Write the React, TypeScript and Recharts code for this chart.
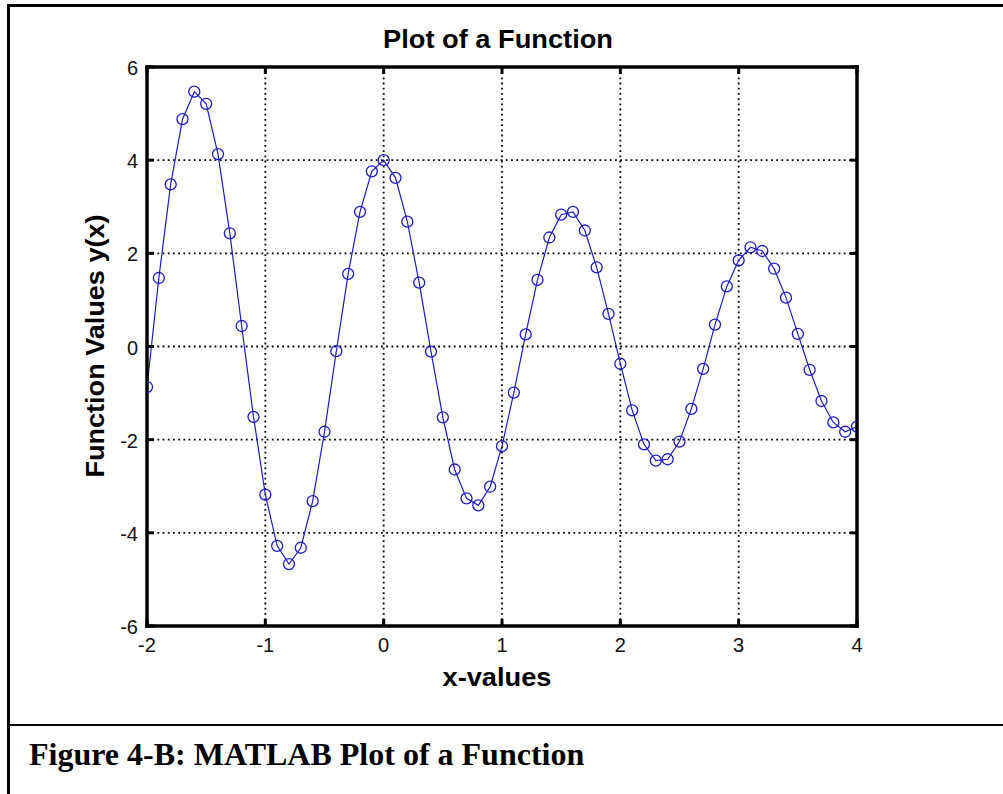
import React from 'react';
import { LineChart, Line, XAxis, YAxis, CartesianGrid } from 'recharts';

const xValues = [
  -2.0, -1.9, -1.8, -1.7, -1.6, -1.5, -1.4, -1.3, -1.2, -1.1,
  -1.0, -0.9, -0.8, -0.7, -0.6, -0.5, -0.4, -0.3, -0.2, -0.1,
  0.0, 0.1, 0.2, 0.3, 0.4, 0.5, 0.6, 0.7, 0.8, 0.9,
  1.0, 1.1, 1.2, 1.3, 1.4, 1.5, 1.6, 1.7, 1.8, 1.9,
  2.0, 2.1, 2.2, 2.3, 2.4, 2.5, 2.6, 2.7, 2.8, 2.9,
  3.0, 3.1, 3.2, 3.3, 3.4, 3.5, 3.6, 3.7, 3.8, 3.9, 4.0,
];

const yValues = [
  -0.87, 1.47, 3.48, 4.88, 5.47, 5.21, 4.13, 2.43, 0.44, -1.51,
  -3.18, -4.28, -4.67, -4.32, -3.32, -1.83, -0.1, 1.56, 2.89, 3.76,
  4.0, 3.62, 2.68, 1.37, -0.11, -1.52, -2.64, -3.26, -3.41, -3.01,
  -2.14, -0.99, 0.26, 1.43, 2.34, 2.83, 2.89, 2.49, 1.7, 0.7,
  -0.37, -1.37, -2.1, -2.45, -2.42, -2.04, -1.34, -0.48, 0.47, 1.29,
  1.85, 2.13, 2.05, 1.67, 1.05, 0.27, -0.5, -1.17, -1.63, -1.83, -1.72,
];

const xTicks = [-2, -1, 0, 1, 2, 3, 4];
const yTicks = [-6, -4, -2, 0, 2, 4, 6];

const chartTitle = 'Plot of a Function';
const xLabel = 'x-values';
const yLabel = 'Function Values y(x)';
const caption = 'Figure 4-B: MATLAB Plot of a Function';

const data = xValues.map((x, i) => ({ x, y: yValues[i] }));

const BLUE = '#1c1cc0';
const TICK_LEN = 7;
const TICK_W = 3;
const AXIS_W = 3.5;
const SANS = '"Liberation Sans", Arial, sans-serif';

const BottomTick = (props: any) => {
  const { x, y, payload } = props;
  return (
    <g>
      <line x1={x} x2={x} y1={y} y2={y - TICK_LEN} stroke="#000" strokeWidth={TICK_W} />
      <text x={x} y={y + 26} textAnchor="middle" fontSize={20} fontFamily={SANS} fill="#111">
        {payload.value}
      </text>
    </g>
  );
};

const TopTick = (props: any) => {
  const { x, y } = props;
  return <line x1={x} x2={x} y1={y} y2={y + TICK_LEN} stroke="#000" strokeWidth={TICK_W} />;
};

const LeftTick = (props: any) => {
  const { x, y, payload } = props;
  return (
    <g>
      <line x1={x} x2={x + TICK_LEN} y1={y} y2={y} stroke="#000" strokeWidth={TICK_W} />
      <text x={x - 9} y={y + 8} textAnchor="end" fontSize={20} fontFamily={SANS} fill="#111">
        {payload.value}
      </text>
    </g>
  );
};

const RightTick = (props: any) => {
  const { x, y } = props;
  return <line x1={x} x2={x - TICK_LEN} y1={y} y2={y} stroke="#000" strokeWidth={TICK_W} />;
};

const MarkerDot = (props: any) => {
  const { cx, cy, index } = props;
  return <circle key={`d${index}`} cx={cx} cy={cy} r={5.5} fill="none" stroke={BLUE} strokeWidth={1.3} />;
};

export default function App() {
  const axisLine = { stroke: '#000', strokeWidth: AXIS_W, strokeLinecap: 'square' as const };
  return (
    <div style={{ position: 'absolute', left: 0, top: 0, width: 1003, height: 794, background: '#fff', overflow: 'hidden' }}>
      {/* document frame */}
      <div style={{ position: 'absolute', left: 7, top: 4, width: 996, height: 2.5, background: '#000' }} />
      <div style={{ position: 'absolute', left: 7, top: 4, width: 2.5, height: 790, background: '#000' }} />
      <div style={{ position: 'absolute', left: 7, top: 723.5, width: 996, height: 2.5, background: '#000' }} />

      <div style={{ position: 'absolute', left: 0, top: 0 }}>
        <LineChart
          width={1003}
          height={794}
          data={data}
          margin={{ top: 66, right: 145, bottom: 128, left: 87 }}
        >
          <CartesianGrid
            xAxisId="b"
            yAxisId="l"
            stroke="#000"
            strokeWidth={1.8}
            strokeDasharray="1.8 3.4"
          />
          <XAxis
            xAxisId="b"
            dataKey="x"
            type="number"
            domain={[-2, 4]}
            ticks={xTicks}
            allowDataOverflow
            height={40}
            tickSize={0}
            tickMargin={0}
            tickLine={false}
            axisLine={axisLine}
            tick={<BottomTick />}
            interval={0}
          />
          <XAxis
            xAxisId="t"
            orientation="top"
            dataKey="x"
            type="number"
            domain={[-2, 4]}
            ticks={xTicks}
            allowDataOverflow
            height={1}
            tickSize={0}
            tickMargin={0}
            tickLine={false}
            axisLine={axisLine}
            tick={<TopTick />}
            interval={0}
          />
          <YAxis
            yAxisId="l"
            type="number"
            domain={[-6, 6]}
            ticks={yTicks}
            allowDataOverflow
            width={60}
            tickSize={0}
            tickMargin={0}
            tickLine={false}
            axisLine={axisLine}
            tick={<LeftTick />}
            interval={0}
          />
          <YAxis
            yAxisId="r"
            orientation="right"
            type="number"
            domain={[-6, 6]}
            ticks={yTicks}
            allowDataOverflow
            width={1}
            tickSize={0}
            tickMargin={0}
            tickLine={false}
            axisLine={axisLine}
            tick={<RightTick />}
            interval={0}
          />
          <Line
            xAxisId="b"
            yAxisId="l"
            type="linear"
            dataKey="y"
            stroke={BLUE}
            strokeWidth={1.2}
            dot={<MarkerDot />}
            activeDot={false}
            isAnimationActive={false}
          />
        </LineChart>
      </div>

      <svg width={1003} height={794} style={{ position: 'absolute', left: 0, top: 0, pointerEvents: 'none' }}>
        <text
          x={498}
          y={48}
          textAnchor="middle"
          fontSize={26}
          fontWeight="bold"
          fontFamily={SANS}
          fill="#000"
          textLength={230}
          lengthAdjust="spacingAndGlyphs"
        >
          {chartTitle}
        </text>
        <text
          x={497}
          y={686}
          textAnchor="middle"
          fontSize={26}
          fontWeight="bold"
          fontFamily={SANS}
          fill="#000"
          textLength={109}
          lengthAdjust="spacingAndGlyphs"
        >
          {xLabel}
        </text>
        <text
          x={0}
          y={0}
          transform="translate(104,346) rotate(-90)"
          textAnchor="middle"
          fontSize={26}
          fontWeight="bold"
          fontFamily={SANS}
          fill="#000"
          textLength={263}
          lengthAdjust="spacingAndGlyphs"
        >
          {yLabel}
        </text>
        <text
          x={29}
          y={765}
          fontSize={32}
          fontWeight="bold"
          fontFamily='"Liberation Serif", "Times New Roman", serif'
          fill="#000"
        >
          {caption}
        </text>
      </svg>
    </div>
  );
}
